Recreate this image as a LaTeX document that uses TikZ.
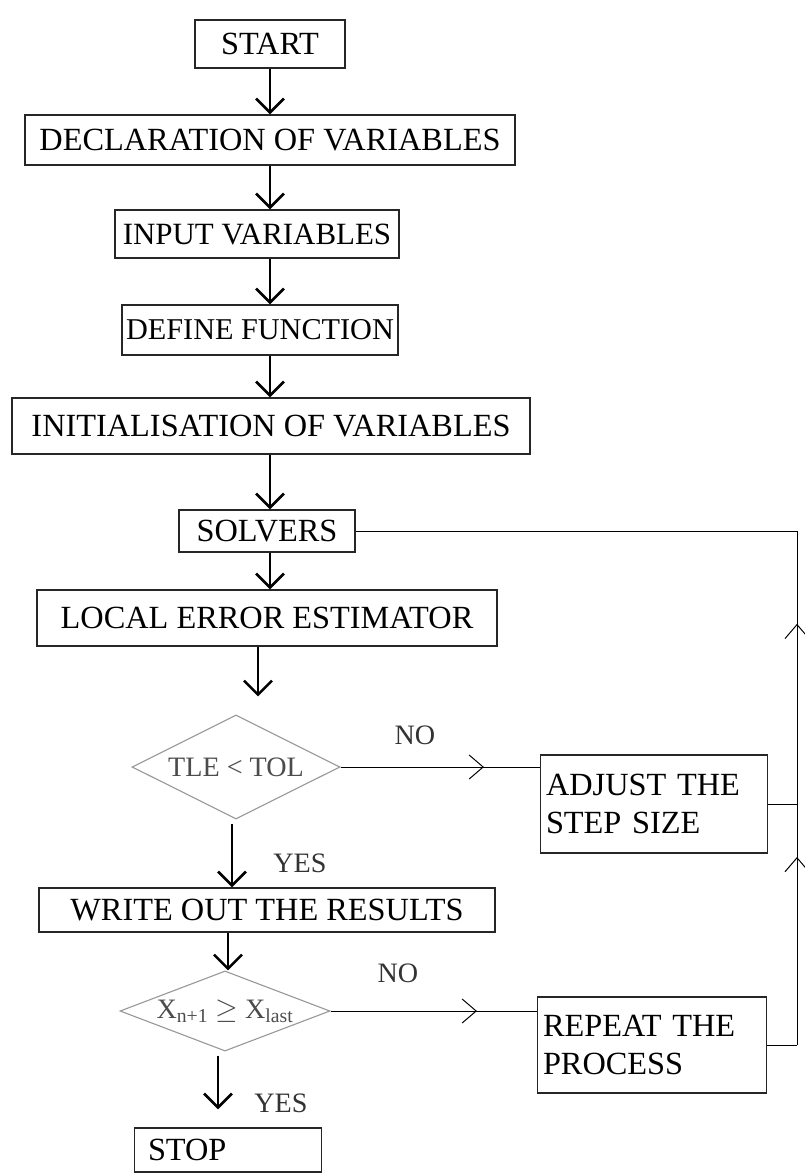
\documentclass[tikz,border=0pt]{standalone}
\usepackage{fontspec}
\setmainfont{Liberation Serif}
\usetikzlibrary{shapes.geometric,arrows.meta,decorations.markings}

\begin{document}
\begin{tikzpicture}[
    box/.style={draw=black!85, line width=1pt, inner xsep=3pt, inner ysep=0pt,
                align=center, minimum width=#1, font=\fontsize{23}{26}\selectfont},
    boxl/.style={draw=black!85, line width=1pt, inner xsep=4pt, inner ysep=0pt,
                 align=left, text width=#1, font=\fontsize{23}{27}\selectfont},
    decision/.style={draw=black!40, diamond, aspect=2.4, line width=0.8pt, inner sep=0pt,
                     text=black!70, font=\fontsize{20}{24}\selectfont},
    flow/.style={line width=1.5pt,
                 -{Straight Barb[length=3.5mm, width=7mm, line width=1.8pt]}},
    link/.style={line width=0.7pt},
    midarrow/.style={link, postaction={decorate},
                     decoration={markings, mark=at position #1 with
                     {\arrow{Straight Barb[length=3.5mm, width=6mm, line width=0.7pt]}}}},
    answer/.style={font=\fontsize{20}{24}\selectfont, text=black!80}]

\useasboundingbox (0,0) rectangle (20.125,-29.375);

% main column
\node[box=3.75cm, minimum height=1.2cm]  (start)   at (6.75,-1.1)    {START};
\node[box=12.25cm, minimum height=1.25cm] (decl)   at (6.75,-3.5)    {DECLARATION OF VARIABLES};
\node[box=7.1cm, minimum height=1.2cm, font=\fontsize{22}{26}\selectfont]
     (input)   at (6.425,-5.85)  {INPUT VARIABLES};
\node[box=6.6cm, minimum height=1.25cm, font=\fontsize{21.5}{25}\selectfont]
     (define)  at (6.5,-8.25)    {DEFINE FUNCTION};
\node[box=12.95cm, minimum height=1.4cm] (init)    at (6.775,-10.65) {INITIALISATION OF VARIABLES};
\node[box=4.4cm, minimum height=1.05cm]  (solvers) at (6.675,-13.275) {SOLVERS};
\node[box=11.5cm, minimum height=1.4cm]  (local)   at (6.675,-15.45) {LOCAL ERROR ESTIMATOR};
\node[decision, minimum width=5.2cm, minimum height=2.6cm] (tle) at (5.9,-19.175) {TLE < TOL};
\node[box=11.4cm, minimum height=1.1cm]  (write)   at (6.675,-22.75) {WRITE OUT THE RESULTS};
\node[decision, minimum width=5.25cm, minimum height=1.95cm] (xcheck) at (5.625,-25.275)
     {X\textsubscript{n+1} $\geq$ X\textsubscript{last}};
\node[boxl=4.4cm, minimum height=1.1cm]  (stop)    at (5.7,-28.75)   {\hspace{2mm}STOP};

% side boxes
\node[boxl=5.4cm, minimum height=2.45cm] (adjust)  at (16.35,-20.1)  {ADJUST THE\\STEP SIZE};
\node[boxl=5.45cm, minimum height=2.4cm] (repeat)  at (16.3,-26.125) {REPEAT THE\\PROCESS};

% return rail
\coordinate (rail) at (19.925,-13.275);

% downward flow
\draw[flow] (start.south) -- (start.south |- decl.north);
\draw[flow] (decl.south -| start.south) -- (start.south |- input.north);
\draw[flow] (input.south -| start.south) -- (start.south |- define.north);
\draw[flow] (define.south -| start.south) -- (start.south |- init.north);
\draw[flow] (init.south -| start.south) -- (start.south |- solvers.north);
\draw[flow] (solvers.south -| start.south) -- (start.south |- local.north);
\draw[flow, shorten >=0.45cm] (local.south -| 6.45,0) -- (tle.north -| 6.45,0);
\draw[flow] ([yshift=-1mm]tle.south -| 5.8,0) -- (write.north -| 5.8,0);
\draw[flow] (write.south -| 5.7,0) -- (xcheck.north -| 5.7,0);
\draw[flow, shorten >=0.45cm] ([yshift=-1mm]xcheck.south -| 5.45,0) -- (stop.north -| 5.45,0);

% no branches
\draw[midarrow=0.72] (tle.east) -- (tle.east -| adjust.west);
\draw[midarrow=0.71] (xcheck.east) -- (xcheck.east -| repeat.west);

% back to the solvers
\draw[link] (solvers.east) -- (rail);
\draw[link] (adjust.east) -- (adjust.east -| rail);
\draw[link] (repeat.east) -- (repeat.east -| rail);
\draw[midarrow=0.66] (adjust.east -| rail) -- (rail);
\draw[midarrow=0.78] (repeat.east -| rail) -- (adjust.east -| rail);

% answers
\node[answer] (no1)  at (10.375,-18.375) {NO};
\node[answer] (no2)  at (9.95,-24.325)   {NO};
\node[answer] (yes1) at (7.5,-21.575)    {YES};
\node[answer] (yes2) at (7.025,-27.575)  {YES};

\end{tikzpicture}
\end{document}
